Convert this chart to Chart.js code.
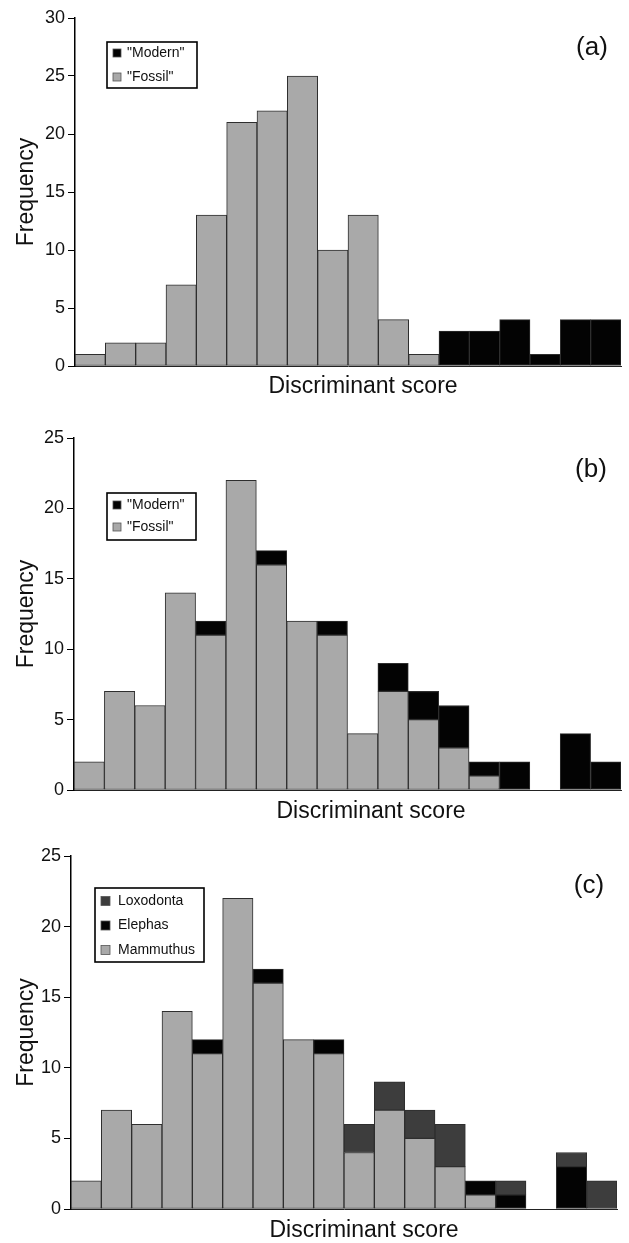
<!DOCTYPE html>
<html>
<head>
<meta charset="utf-8">
<script src="https://cdn.jsdelivr.net/npm/chart.js@4.4.1/dist/chart.umd.min.js"></script>
<style>
  body { margin: 0; background: #fff; width: 629px; height: 1243px; overflow: hidden; position: relative; }
  canvas { position: absolute; left: 0; }
</style>
</head>
<body>
<canvas id="chart-a" width="629" height="405" style="top:0px"></canvas>
<canvas id="chart-b" width="629" height="420" style="top:405px"></canvas>
<canvas id="chart-c" width="629" height="418" style="top:825px"></canvas>
<script>
// 18 class intervals of the discriminant score (no labels on the axis)
const bins = ['1','2','3','4','5','6','7','8','9','10','11','12','13','14','15','16','17','18'];

// (a)
const fossilA = [1,2,2,7,13,21,22,25,10,13,4,1,0,0,0,0,0,0];
const modernA = [0,0,0,0,0,0,0,0,0,0,0,0,3,3,4,1,4,4];
const ticksA = [0,5,10,15,20,25,30];

// (b)
const fossilB = [2,7,6,14,11,22,16,12,11,4,7,5,3,1,0,0,0,0];
const modernB = [0,0,0,0,1,0,1,0,1,0,2,2,3,1,2,0,4,2];
const ticksB = [0,5,10,15,20,25];

// (c)
const mammuthusC = [2,7,6,14,11,22,16,12,11,4,7,5,3,1,0,0,0,0];
const elephasC   = [0,0,0,0,1,0,1,0,1,0,0,0,0,1,1,0,3,0];
const loxodontaC = [0,0,0,0,0,0,0,0,0,2,2,2,3,0,1,0,1,2];
const ticksC = [0,5,10,15,20,25];

const FONT = '"Liberation Sans", Arial, Helvetica, sans-serif';
const GREY = '#a9a9a9';
const BLACK = '#030303';
const DARK = '#3d3d3d';

// draws the panel tag, x title and the boxed legend
const panelDeco = {
    id: 'panelDeco',
    afterDraw(chart, args, o){
        const ctx = chart.ctx;
        ctx.save();
        ctx.fillStyle = '#111';
        ctx.textAlign = 'center';
        ctx.textBaseline = 'middle';
        ctx.font = '26px ' + FONT;
        ctx.fillText(o.tag, o.tagX, o.tagY);
        ctx.font = '23px ' + FONT;
        ctx.fillText('Discriminant score', o.xTitleX, o.xTitleY);

        const L = o.legend;
        ctx.fillStyle = '#fff';
        ctx.fillRect(L.x, L.y, L.w, L.h);
        ctx.lineWidth = 1.6;
        ctx.strokeStyle = '#000';
        ctx.strokeRect(L.x, L.y, L.w, L.h);

        const ds = chart.data.datasets.slice().reverse();
        ctx.textAlign = 'left';
        ctx.font = L.size + 'px ' + FONT;
        for(let i = 0; i < ds.length; i++){
            const y = L.y + L.first + i * L.step;
            ctx.fillStyle = ds[i].backgroundColor;
            ctx.fillRect(L.sx, y - L.sq / 2, L.sq, L.sq);
            ctx.lineWidth = 0.8;
            ctx.strokeStyle = '#555';
            ctx.strokeRect(L.sx, y - L.sq / 2, L.sq, L.sq);
            ctx.fillStyle = '#111';
            ctx.fillText(ds[i].label, L.tx, y);
        }
        ctx.restore();
    }
};

function barSet(label, data, color){
    return {
        label: label,
        data: data,
        backgroundColor: color,
        borderColor: '#2e2e2e',
        borderWidth: 1,
        borderSkipped: false,
        categoryPercentage: 1,
        barPercentage: 1
    };
}

function CreateHistogram(canvasId, datasets, yTicks, geom, deco){
    const ctx = document.getElementById(canvasId);
    return new Chart(ctx, {
        type: 'bar',
        data: { labels: bins, datasets: datasets },
        plugins: [panelDeco],
        options: {
            responsive: false,
            animation: false,
            devicePixelRatio: 1,
            layout: { padding: { top: geom.top, right: geom.right, left: 0, bottom: 0 } },
            plugins: {
                legend: { display: false },
                tooltip: { enabled: false },
                panelDeco: deco
            },
            scales: {
                x: {
                    stacked: true,
                    grid: { display: false },
                    border: { display: true, color: '#222', width: 1 },
                    ticks: { display: false },
                    afterFit(s){ s.height = geom.xh; }
                },
                y: {
                    stacked: true,
                    min: yTicks[0],
                    max: yTicks[yTicks.length - 1],
                    border: { display: true, color: '#000', width: 1.5 },
                    grid: { display: true, drawOnChartArea: false, drawTicks: true, tickLength: 7, tickColor: '#000', tickWidth: 1 },
                    afterBuildTicks(s){ s.ticks = yTicks.map(v => ({ value: v })); },
                    ticks: { padding: 3, color: '#111', font: { size: 18, family: FONT }, callback: v => String(v) },
                    title: { display: true, text: 'Frequency', color: '#111', font: { size: 23, family: FONT }, padding: { top: 13, bottom: 0 } },
                    afterFit(s){ s.width = geom.left; }
                }
            }
        }
    });
}

CreateHistogram('chart-a',
    [barSet('"Fossil"', fossilA, GREY), barSet('"Modern"', modernA, BLACK)],
    ticksA,
    { top: 18, right: 8, left: 75, xh: 39 },
    { tag: '(a)', tagX: 592, tagY: 48, xTitleX: 363, xTitleY: 387,
      legend: { x: 107, y: 42, w: 90, h: 46, first: 11, step: 24, sx: 113, sq: 8, tx: 127, size: 14 } });

CreateHistogram('chart-b',
    [barSet('"Fossil"', fossilB, GREY), barSet('"Modern"', modernB, BLACK)],
    ticksB,
    { top: 33, right: 8, left: 74, xh: 35 },
    { tag: '(b)', tagX: 591, tagY: 65, xTitleX: 371, xTitleY: 407,
      legend: { x: 107, y: 88, w: 89, h: 47, first: 12, step: 22, sx: 113, sq: 8, tx: 127, size: 14 } });

CreateHistogram('chart-c',
    [barSet('Mammuthus', mammuthusC, GREY), barSet('Elephas', elephasC, BLACK), barSet('Loxodonta', loxodontaC, DARK)],
    ticksC,
    { top: 31, right: 12, left: 71, xh: 34 },
    { tag: '(c)', tagX: 589, tagY: 61, xTitleX: 364, xTitleY: 406,
      legend: { x: 95, y: 63, w: 109, h: 74, first: 13, step: 24.5, sx: 101, sq: 9, tx: 118, size: 14 } });
</script>
</body>
</html>
